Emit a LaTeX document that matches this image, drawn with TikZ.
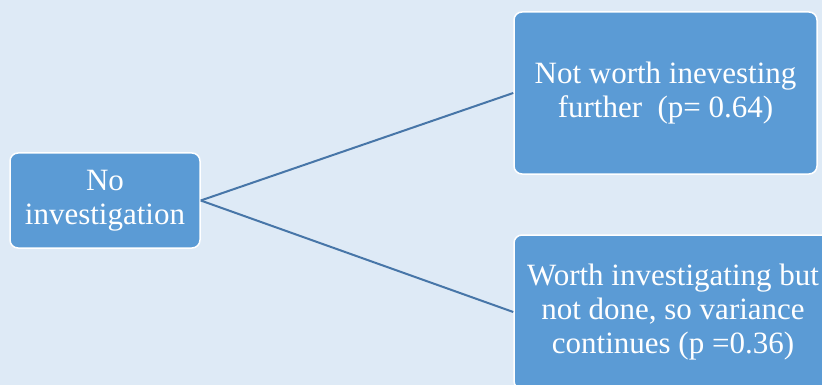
\documentclass[tikz,border=0pt]{standalone}
\usepackage{fontspec}
\setmainfont{Liberation Serif}
\definecolor{bgblue}{HTML}{DEEAF6}
\definecolor{boxblue}{HTML}{5B9BD5}
\definecolor{linkblue}{HTML}{4776A8}
\tikzset{
  box/.style={rectangle, rounded corners=8pt, draw=white, line width=1.5pt,
    fill=boxblue, text=white, align=center, inner sep=0pt,
    font=\fontsize{31}{34}\selectfont},
  link/.style={draw=linkblue, line width=2pt}
}
\begin{document}
\begin{tikzpicture}[x=1pt,y=-1pt]
\useasboundingbox (0,0) rectangle (822,385);
\clip (0,0) rectangle (822,385);
\fill[bgblue] (0,0) rectangle (822,385);
\node[box, minimum width=190pt, minimum height=95pt] (root) at (105,200.5) {No\\investigation};
\node[box, minimum width=303pt, minimum height=162pt] (top) at (665.5,93) {Not worth inevesting\\further~~(p=~0.64)};
\node[box, minimum width=318pt, minimum height=154pt] (bot) at (673,312) {Worth investigating but\\not done, so variance\\continues (p~=0.36)};
\draw[link] (root.east) -- (top.west);
\draw[link] (root.east) -- (bot.west);
\end{tikzpicture}
\end{document}
